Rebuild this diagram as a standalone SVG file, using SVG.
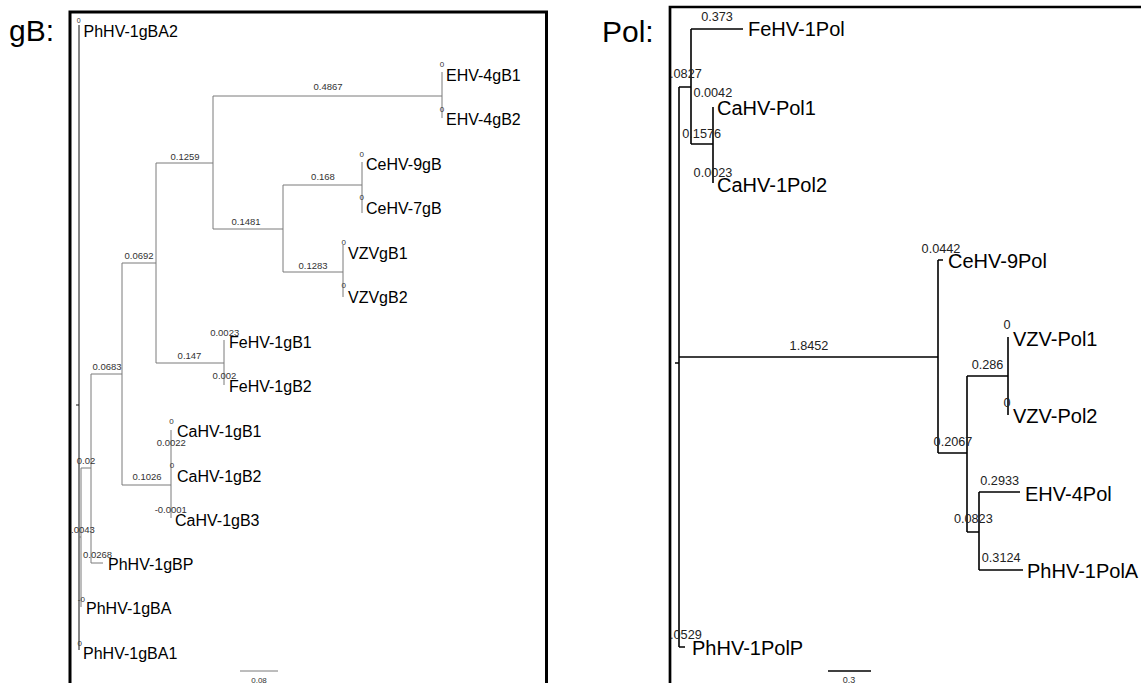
<svg xmlns="http://www.w3.org/2000/svg" width="1141" height="683" viewBox="0 0 1141 683">
<style>
  text { font-family: "Liberation Sans", Arial, sans-serif; }
  .title { font-size: 30px; fill: #000; }
  .frame { fill: none; stroke: #000; stroke-width: 3; }
  .gl { fill: none; stroke: #7a7a7a; stroke-width: 1; }
  .gk { fill: none; stroke: #111; stroke-width: 1; }
  .pl { fill: none; stroke: #000; stroke-width: 1.6; }
  .leafL { font-size: 16px; fill: #000; }
  .leafR { font-size: 20px; fill: #000; }
  .blL { font-size: 9.5px; fill: #333; text-anchor: middle; }
  .zL { font-size: 8px; fill: #333; text-anchor: middle; }
  .blR { font-size: 12.7px; fill: #222; text-anchor: middle; }
  .scale { font-size: 8px; fill: #333; text-anchor: middle; }
</style>
<rect width="1141" height="683" fill="#fff"/>

<!-- ===== gB panel ===== -->
<text class="title" x="9" y="41">gB:</text>
<path class="frame" d="M70,690 V12 H546.5 V690"/>

<g id="gB-connectors">
  <path class="gk" d="M79,25 V650 M76,405 H79"/>
  <path class="gl" d="M79,537 H81 M81,468 V607 M81,468 H91 M91,374 V563 M91,563 H103 M91,374 H122
    M122,263 V485 M122,263 H156 M156,163 V363 M156,163 H213 M213,96 V229 M213,96 H442 M442,72 V118
    M213,229 H283 M283,185 V272 M283,185 H362 M362,162 V213 M283,272 H343 M343,245 V297
    M156,363 H224 M224,340 V385 M122,485 H171 M171,430 V518"/>
  <g id="gB-branch-labels">
    <text class="blL" x="328" y="90">0.4867</text>
    <text class="blL" x="185" y="159.5">0.1259</text>
    <text class="blL" x="246" y="225">0.1481</text>
    <text class="blL" x="323" y="179.5">0.168</text>
    <text class="blL" x="313" y="269">0.1283</text>
    <text class="blL" x="139" y="258.5">0.0692</text>
    <text class="blL" x="189.5" y="358.5">0.147</text>
    <text class="blL" x="107" y="369.5">0.0683</text>
    <text class="blL" x="147" y="479.5">0.1026</text>
    <text class="blL" x="86" y="463.5">0.02</text>
    <text class="blL" x="83" y="532.5">.0043</text>
    <text class="blL" x="97.5" y="557.5">0.0268</text>
  </g>
  <path class="gl" d="M240,671 H278"/>
  <text class="scale" x="259" y="683">0.08</text>
</g>

<g id="gB-PhHV-1gBA2"><text class="zL" x="78.7" y="23.3" style="font-size:7px">0</text><text class="leafL" x="83.5" y="37">PhHV-1gBA2</text></g>
<g id="gB-EHV-4gB1"><text class="zL" x="442" y="66.7">0</text><text class="leafL" x="446" y="80.7">EHV-4gB1</text></g>
<g id="gB-EHV-4gB2"><text class="zL" x="442" y="111.7">0</text><text class="leafL" x="446" y="125.3">EHV-4gB2</text></g>
<g id="gB-CeHV-9gB"><text class="zL" x="361.7" y="156.7">0</text><text class="leafL" x="366" y="170">CeHV-9gB</text></g>
<g id="gB-CeHV-7gB"><text class="zL" x="361.7" y="200">0</text><text class="leafL" x="366" y="214">CeHV-7gB</text></g>
<g id="gB-VZVgB1"><text class="zL" x="343.8" y="245">0</text><text class="leafL" x="348" y="259">VZVgB1</text></g>
<g id="gB-VZVgB2"><text class="zL" x="343.8" y="288.3">0</text><text class="leafL" x="348" y="302.7">VZVgB2</text></g>
<g id="gB-FeHV-1gB1"><text class="blL" x="224.7" y="335.5">0.0023</text><text class="leafL" x="229" y="347.7">FeHV-1gB1</text></g>
<g id="gB-FeHV-1gB2"><text class="blL" x="224.5" y="379">0.002</text><text class="leafL" x="229" y="392.3">FeHV-1gB2</text></g>
<g id="gB-CaHV-1gB1"><text class="zL" x="171.5" y="424">0</text><text class="leafL" x="177" y="436.7">CaHV-1gB1</text></g>
<g id="gB-CaHV-1gB2"><text class="blL" x="171.3" y="446">0.0022</text><text class="zL" x="172" y="468.3">0</text><text class="leafL" x="177" y="481.7">CaHV-1gB2</text></g>
<g id="gB-CaHV-1gB3"><text class="blL" x="170.8" y="512.7">-0.0001</text><text class="leafL" x="175" y="525.7">CaHV-1gB3</text></g>
<g id="gB-PhHV-1gBP"><text class="leafL" x="108" y="570">PhHV-1gBP</text></g>
<g id="gB-PhHV-1gBA"><text class="zL" x="81.3" y="601.7">-0</text><text class="leafL" x="86" y="614">PhHV-1gBA</text></g>
<g id="gB-PhHV-1gBA1"><text class="zL" x="79.7" y="645.7">0</text><text class="leafL" x="83" y="659">PhHV-1gBA1</text></g>

<!-- ===== Pol panel ===== -->
<text class="title" x="602" y="41.5">Pol:</text>
<path class="frame" d="M670,690 V7 H1145" style="stroke-width:2.7"/>

<g id="Pol-connectors">
  <path class="pl" d="M679,87 V647 M675,363 H679 M679,87 H691 M691,29 V144 M691,29 H743 M691,144 H713 M713,107 V183
    M679,647 H685 M679,357 H938 M938,260 V453 M938,260 H943 M938,453 H967 M967,376 V532
    M967,376 H1008 M1008,337 V415 M967,532 H979 M979,492 V570 M979,492 H1020 M979,570 H1023"/>
  <g id="Pol-branch-labels">
    <text class="blR" x="717" y="20.7">0.373</text>
    <text class="blR" x="670" y="78.3" style="text-anchor:start">.0827</text>
    <text class="blR" x="701.7" y="137.7">0.1576</text>
    <text class="blR" x="809" y="350">1.8452</text>
    <text class="blR" x="987.5" y="369.3">0.286</text>
    <text class="blR" x="953" y="446">0.2067</text>
    <text class="blR" x="973.3" y="523.3">0.0823</text>
  </g>
  <path class="pl" d="M828,671 H871" style="stroke-width:1.3"/>
  <text class="scale" x="849" y="683" style="font-size:9px">0.3</text>
</g>

<g id="Pol-FeHV-1Pol"><text class="leafR" x="748" y="36">FeHV-1Pol</text></g>
<g id="Pol-CaHV-Pol1"><text class="blR" x="712.8" y="96.7">0.0042</text><text class="leafR" x="717" y="115">CaHV-Pol1</text></g>
<g id="Pol-CaHV-1Pol2"><text class="blR" x="713" y="176.7">0.0023</text><text class="leafR" x="717" y="191.7">CaHV-1Pol2</text></g>
<g id="Pol-CeHV-9Pol"><text class="blR" x="941" y="253.3">0.0442</text><text class="leafR" x="948" y="268.3">CeHV-9Pol</text></g>
<g id="Pol-VZV-Pol1"><text class="blR" x="1007" y="329.3">0</text><text class="leafR" x="1013" y="346">VZV-Pol1</text></g>
<g id="Pol-VZV-Pol2"><text class="blR" x="1007" y="406.7">0</text><text class="leafR" x="1013" y="422.7">VZV-Pol2</text></g>
<g id="Pol-EHV-4Pol"><text class="blR" x="999.7" y="485">0.2933</text><text class="leafR" x="1025" y="501">EHV-4Pol</text></g>
<g id="Pol-PhHV-1PolA"><text class="blR" x="1001.2" y="562.3">0.3124</text><text class="leafR" x="1027" y="578.3">PhHV-1PolA</text></g>
<g id="Pol-PhHV-1PolP"><text class="blR" x="670" y="639.3" style="text-anchor:start">.0529</text><text class="leafR" x="692" y="655">PhHV-1PolP</text></g>
</svg>
